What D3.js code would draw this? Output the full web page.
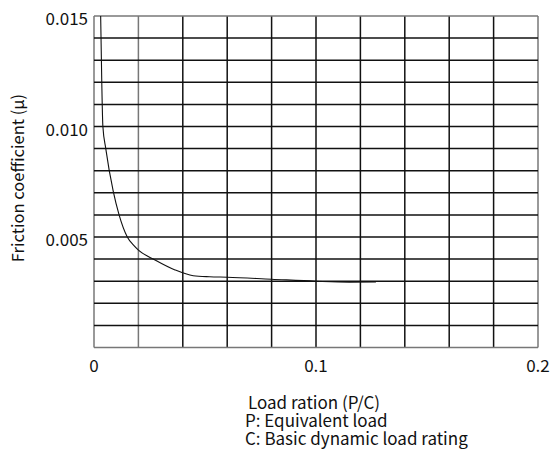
<!DOCTYPE html>
<html><head><meta charset="utf-8">
<script src="https://cdn.jsdelivr.net/npm/d3@7"></script>
<style>
html,body{margin:0;padding:0;background:#fff;}
svg{display:block;font-family:"Noto Sans CJK JP","Noto Sans",sans-serif;}
</style></head>
<body><svg id="c" width="558" height="453"></svg>
<script>
const loadRatio = [0.003,0.0035,0.004,0.0053,0.0087,0.0113,0.015,0.0177,0.020,0.0275,0.0365,0.0447,0.052,0.060,0.080,0.100,0.115,0.127];
const friction  = [0.015,0.012,0.010,0.0090,0.00705,0.0060,0.0050,0.00464,0.00441,0.00396,0.00351,0.00325,0.0032,0.00318,0.00309,0.00300,0.00296,0.00297];
const xTicks = [0,0.1,0.2];
const xTickLabels = ["0","0.1","0.2"];
const yTicks = [0.005,0.010,0.015];
const yTickLabels = ["0.005","0.010","0.015"];
const yTitle = "Friction coefficient (μ)";
const xNotes = ["Load ration (P/C)","P: Equivalent load","C: Basic dynamic load rating"];

const svg = d3.select("#c");
const x = d3.scaleLinear().domain([0,0.2]).range([94,538]);
const y = d3.scaleLinear().domain([0,0.015]).range([347.5,16]);

const gx = d3.range(0,11).map(i=>i*0.02);
const gy = d3.range(0,16).map(i=>i*0.001);

const grid = svg.append("g");
grid.selectAll("line.v").data(gx).join("line")
  .attr("x1",d=>x(d)).attr("x2",d=>x(d)).attr("y1",y(0)).attr("y2",y(0.015))
  .attr("stroke",(d,i)=> (i===0||i===10||i===1)?"#777":"#111").attr("stroke-width",1.5);
grid.selectAll("line.h").data(gy).join("line")
  .attr("y1",d=>y(d)).attr("y2",d=>y(d)).attr("x1",x(0)).attr("x2",x(0.2))
  .attr("stroke",(d,i)=> (i===0||i===15)?"#777":"#111").attr("stroke-width",1.5);

const pts = loadRatio.map((v,i)=>[v,friction[i]]);
svg.append("path").datum(pts)
  .attr("d", d3.line().x(d=>x(d[0])).y(d=>y(d[1])).curve(d3.curveMonotoneX))
  .attr("fill","none").attr("stroke","#111").attr("stroke-width",1.1);

svg.selectAll("text.xt").data(xTicks).join("text")
  .attr("x",d=>x(d)).attr("y",372).attr("text-anchor","middle")
  .attr("font-size",17).attr("fill","#111").text((d,i)=>xTickLabels[i]);
svg.selectAll("text.yt").data(yTicks).join("text")
  .attr("x",88).attr("y",d=>y(d)+9).attr("text-anchor","end")
  .attr("font-size",17).attr("fill","#111").text((d,i)=>yTickLabels[i]);

svg.append("text").attr("transform","translate(24,178) rotate(-90)")
  .attr("text-anchor","middle").attr("font-size",16.5).attr("fill","#111").text(yTitle);

const nx = [248,245,245];
const notes = svg.append("text").attr("y",409).attr("font-size",17).attr("fill","#111");
notes.selectAll("tspan").data(xNotes).join("tspan")
  .attr("x",(d,i)=>nx[i]).attr("dy",(d,i)=> i===0?0:18).text(d=>d);
</script></body></html>
